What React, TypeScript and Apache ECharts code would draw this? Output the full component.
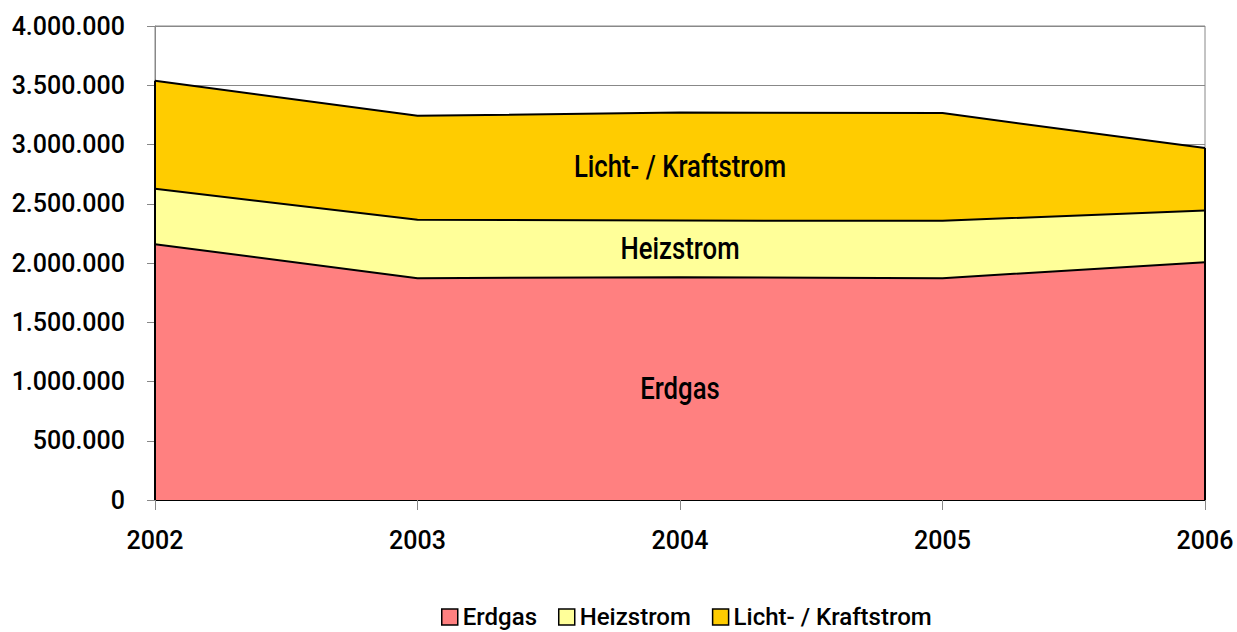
import React, { useEffect, useRef } from "react";
import * as echarts from "echarts";

const years = ["2002", "2003", "2004", "2005", "2006"];
const erdgas = [2159000, 1872000, 1880000, 1872000, 2007000];
const heizstrom = [467000, 492000, 478000, 484000, 436000];
const lichtKraftstrom = [912000, 878000, 912000, 909000, 527000];
const seriesNames = ["Erdgas", "Heizstrom", "Licht- / Kraftstrom"];
const colors = ["#FF8080", "#FFFF99", "#FFCC00"];
const labelYearIndex = 2;

const font = "Roboto, 'Noto Sans', sans-serif";

function fmt(v: number): string {
  return String(v).replace(/\B(?=(\d{3})+(?!\d))/g, ".");
}

export default function App() {
  const ref = useRef<HTMLDivElement>(null);
  useEffect(() => {
    document.body.style.margin = "0";
    if (!ref.current) return;
    const chart = echarts.init(ref.current, null, { renderer: "svg" });
    const data = [erdgas, heizstrom, lichtKraftstrom];
    const option: any = {
      animation: false,
      backgroundColor: "#fff",
      grid: {
        left: 155,
        right: 32,
        top: 26,
        bottom: 132,
        show: true,
        borderColor: "#888",
        borderWidth: 1,
        backgroundColor: "transparent",
      },
      legend: {
        data: seriesNames.map((n) => ({ name: n, icon: "rect" })),
        top: 605,
        left: 441,
        itemWidth: 16,
        itemHeight: 16,
        itemGap: 21,
        padding: 0,
        selectedMode: false,
        itemStyle: { borderColor: "#000", borderWidth: 1.5 },
        textStyle: { fontFamily: font, fontWeight: 500, fontSize: 24, color: "#000" },
      },
      xAxis: {
        type: "category",
        data: years,
        boundaryGap: false,
        axisLine: { show: true, lineStyle: { color: "#000", width: 2 } },
        axisTick: { show: true, length: 10, alignWithLabel: true, lineStyle: { color: "#888" } },
        axisLabel: { fontFamily: font, fontWeight: 500, fontSize: 25, color: "#000", margin: 28 },
        splitLine: { show: false },
      },
      yAxis: {
        type: "value",
        min: 0,
        max: 4000000,
        interval: 500000,
        axisLine: { show: true, lineStyle: { color: "#888" } },
        axisTick: { show: true, length: 8, lineStyle: { color: "#888" } },
        axisLabel: { fontFamily: font, fontWeight: 500, fontSize: 25, color: "#000", margin: 30, formatter: (v: number) => fmt(v) },
        splitLine: { show: true, lineStyle: { color: "#888", width: 1 } },
      },
      series: seriesNames.map((name, i) => ({
        name,
        type: "line",
        stack: "total",
        data: data[i],
        symbol: "none",
        color: colors[i],
        itemStyle: { color: colors[i] },
        lineStyle: { color: "#000", width: 2 },
        areaStyle: { color: colors[i], opacity: 1 },
        emphasis: { disabled: true },
      })),
    };
    chart.setOption(option);

    const conv = (x: string, y: number) =>
      chart.convertToPixel({ xAxisIndex: 0, yAxisIndex: 0 }, [x, y]) as number[];
    const k = labelYearIndex;
    const mids = [
      erdgas[k] / 2,
      erdgas[k] + heizstrom[k] / 2,
      erdgas[k] + heizstrom[k] + lichtKraftstrom[k] / 2,
    ];
    const labels = seriesNames.map((n, i) => {
      const p = conv(years[k], mids[i]);
      return {
        type: "text",
        x: p[0],
        y: p[1],
        scaleX: 0.83,
        z: 100,
        style: {
          text: n,
          fontFamily: font,
          fontWeight: 500,
          fontSize: 31,
          fill: "#000",
          align: "center",
          verticalAlign: "middle",
        },
      };
    });
    const first = years[0];
    const last = years[years.length - 1];
    const n = years.length - 1;
    const totalFirst = erdgas[0] + heizstrom[0] + lichtKraftstrom[0];
    const totalLast = erdgas[n] + heizstrom[n] + lichtKraftstrom[n];
    const a0 = conv(first, 0);
    const a1 = conv(first, totalFirst);
    const b0 = conv(last, 0);
    const b1 = conv(last, totalLast);
    const edges = [
      { type: "line", z: 99, shape: { x1: a0[0], y1: a0[1], x2: a1[0], y2: a1[1] }, style: { stroke: "#000", lineWidth: 2 } },
      { type: "line", z: 99, shape: { x1: b0[0], y1: b0[1], x2: b1[0], y2: b1[1] }, style: { stroke: "#000", lineWidth: 2 } },
    ];
    chart.setOption({ graphic: [...edges, ...labels] });

    return () => chart.dispose();
  }, []);
  return <div ref={ref} style={{ width: 1237, height: 632 }} />;
}
